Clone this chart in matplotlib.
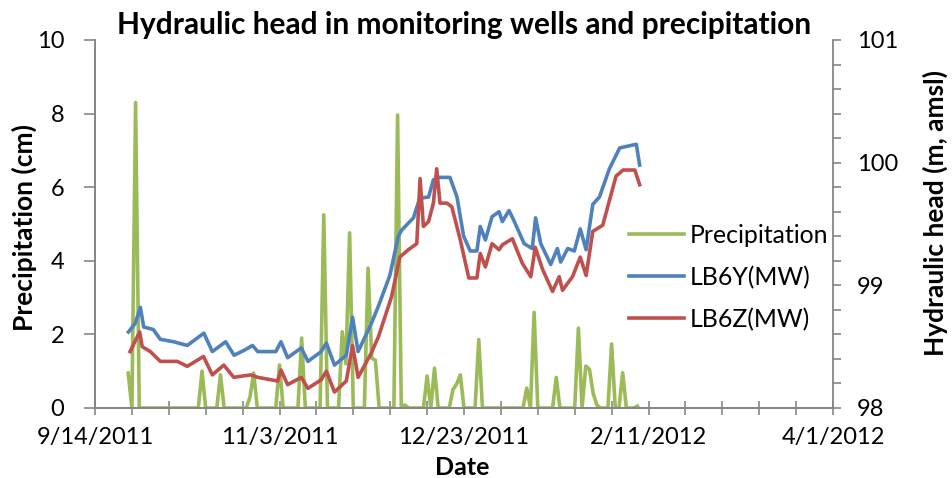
import datetime as dt
import matplotlib
matplotlib.use('Agg')
import matplotlib.pyplot as plt
from matplotlib.ticker import FixedLocator, FuncFormatter, MultipleLocator, NullFormatter
import matplotlib.dates as mdates

# 数据：日期以 2011-09-14 起算的天数表示
start = dt.datetime(2011, 9, 14)

# 日降水量 (cm)，从第 9 天到第 147 天
precip_first_day = 9
precip_cm = [
    0.95, 0, 8.3, 0, 0, 0, 0, 0, 0, 0, 0, 0, 0, 0, 0, 0, 0, 0, 0, 0,   # d9-28
    1.0, 0, 0, 0, 0, 0.9, 0, 0, 0, 0, 0, 0, 0, 0.3, 0.95, 0, 0, 0, 0, 0,  # d29-48
    0, 1.17, 0, 0, 0, 0, 0, 1.9, 0, 0, 0, 0, 0, 5.25, 0, 0, 0, 0, 2.07, 1.2,  # d49-68
    4.76, 0, 0, 0, 0, 3.8, 1.35, 1.3, 0, 0, 0, 0, 0, 7.96, 0.05, 0.08, 0, 0, 0, 0,  # d69-88
    0, 0.87, 0, 1.08, 0, 0, 0, 0, 0.5, 0.65, 0.9, 0, 0, 0, 0, 1.86, 0, 0, 0, 0,  # d89-108
    0, 0, 0, 0, 0, 0, 0, 0, 0.54, 0, 2.6, 0, 0, 0, 0, 0, 0.83, 0, 0, 0,  # d109-128
    0, 0, 2.17, 0, 1.14, 1.05, 0.4, 0.08, 0, 0, 0, 1.74, 0, 0, 0.96, 0, 0, 0, 0.05,  # d129-147
]

# 监测井水头 (m, amsl)
lb6y_day = [9.07, 10.9, 12.3, 13.2, 15.8, 17.7, 21.3, 25.0, 29.5, 31.8, 35.4, 37.7, 40.4, 42.7,
            44.1, 49.0, 50.4, 52.2, 55.9, 57.7, 61.3, 62.7, 64.9, 68.1, 69.8, 71.3, 74.9, 76.8,
            79.9, 82.2, 83.1, 86.3, 88.0, 90.4, 91.7, 93.1, 96.2, 98.1, 99.9, 101.7, 103.5, 104.4,
            105.8, 107.6, 109.5, 110.4, 112.2, 113.5, 116.3, 118.5, 119.4, 120.8, 123.5, 125.3,
            126.2, 128.1, 129.9, 131.5, 133.1, 134.9, 136.7, 139.4, 142.2, 146.7, 147.6]
lb6y_head = [98.62, 98.69, 98.82, 98.66, 98.64, 98.56, 98.54, 98.51, 98.61, 98.46, 98.54, 98.43,
             98.47, 98.51, 98.46, 98.46, 98.54, 98.41, 98.49, 98.38, 98.46, 98.53, 98.35, 98.43,
             98.74, 98.46, 98.69, 98.83, 99.08, 99.40, 99.45, 99.55, 99.71, 99.72, 99.86, 99.88,
             99.88, 99.72, 99.40, 99.28, 99.28, 99.48, 99.37, 99.56, 99.60, 99.52, 99.61, 99.53,
             99.34, 99.30, 99.55, 99.34, 99.17, 99.30, 99.19, 99.30, 99.28, 99.46, 99.29, 99.66,
             99.72, 99.95, 100.12, 100.15, 99.98]

lb6z_day = [9.5, 12.1, 12.8, 15.0, 17.7, 22.3, 25.0, 29.4, 31.8, 34.9, 37.6, 42.2, 44.1, 49.5,
            50.4, 52.2, 55.9, 57.7, 61.3, 62.7, 64.9, 68.1, 69.8, 71.3, 74.9, 76.8, 80.4, 82.6,
            84.9, 87.2, 88.1, 89.0, 90.4, 91.7, 92.6, 93.5, 95.4, 96.7, 99.0, 101.3, 103.5, 104.4,
            105.8, 107.6, 109.5, 110.4, 113.1, 115.8, 118.1, 119.3, 121.3, 124.0, 125.8, 126.7,
            129.4, 131.5, 133.1, 134.9, 137.6, 141.2, 143.1, 146.3, 147.6]
lb6z_head = [98.46, 98.62, 98.50, 98.46, 98.38, 98.38, 98.34, 98.42, 98.27, 98.35, 98.25, 98.27,
             98.25, 98.22, 98.31, 98.19, 98.25, 98.16, 98.23, 98.30, 98.13, 98.22, 98.51, 98.25,
             98.45, 98.58, 98.91, 99.23, 99.29, 99.34, 99.87, 99.48, 99.52, 99.67, 99.95, 99.67,
             99.67, 99.64, 99.37, 99.06, 99.06, 99.26, 99.15, 99.34, 99.29, 99.33, 99.38, 99.18,
             99.07, 99.31, 99.13, 98.95, 99.07, 98.96, 99.07, 99.23, 99.08, 99.44, 99.49, 99.89,
             99.94, 99.94, 99.82]

x_tick_days = [0, 50, 100, 150, 200]


def to_dates(days):
    return [start + dt.timedelta(days=d) for d in days]


def date_label(x, pos):
    d = mdates.num2date(x)
    return f'{d.month}/{d.day}/{d.year}'


plt.rcParams['font.family'] = ['Lato', 'DejaVu Sans']
plt.rcParams['font.size'] = 17

GREEN = '#9BBB59'
BLUE = '#4F81BD'
RED = '#C0504D'
AXC = '#868686'

fig = plt.figure(figsize=(9.52, 4.78), dpi=100)
ax = fig.add_axes([95 / 952, 1 - 408 / 478, 738 / 952, 368 / 478])
ax2 = ax.twinx()

precip_days = list(range(precip_first_day, precip_first_day + len(precip_cm)))
l1, = ax.plot(to_dates(precip_days), precip_cm, color=GREEN, lw=2.6, label='Precipitation')
l2, = ax2.plot(to_dates(lb6y_day), lb6y_head, color=BLUE, lw=2.6, label='LB6Y(MW)')
l3, = ax2.plot(to_dates(lb6z_day), lb6z_head, color=RED, lw=2.6, label='LB6Z(MW)')

ax.set_xlim(mdates.date2num(start), mdates.date2num(start + dt.timedelta(days=200)))
ax.set_ylim(0, 10)
ax2.set_ylim(98, 101)

ax.xaxis.set_major_locator(FixedLocator(mdates.date2num(to_dates(x_tick_days))))
ax.xaxis.set_minor_locator(FixedLocator(mdates.date2num(to_dates(range(0, 201, 10)))))
ax.xaxis.set_major_formatter(FuncFormatter(date_label))
ax.yaxis.set_major_locator(MultipleLocator(2))
ax2.yaxis.set_major_locator(MultipleLocator(1))
ax2.yaxis.set_minor_locator(MultipleLocator(0.2))
ax2.yaxis.set_minor_formatter(NullFormatter())

for a in (ax, ax2):
    a.spines['top'].set_visible(False)
    for s in a.spines.values():
        s.set_color(AXC)
        s.set_linewidth(1.3)
ax.spines['right'].set_visible(False)

ax.tick_params(axis='x', which='both', direction='inout', length=10, width=1.2, color=AXC, pad=9)
ax.tick_params(axis='y', direction='out', length=8, width=1.2, color=AXC, pad=14)
ax2.tick_params(axis='y', which='both', direction='out', length=6, width=1.2, color=AXC, pad=11)

ax.set_title('Hydraulic head in monitoring wells and precipitation',
             fontweight='bold', fontsize=21.5, pad=4)
ax.set_xlabel('Date', fontweight='bold', fontsize=18)
ax.xaxis.set_label_coords(0.497, -0.163)
ax.xaxis.label.set_verticalalignment('center')
ax.set_ylabel('Precipitation (cm)', fontweight='bold', fontsize=19)
ax.yaxis.set_label_coords(-0.079, 0.49)
ax2.set_ylabel('Hydraulic head (m, amsl)', fontweight='bold', fontsize=19)
ax2.yaxis.set_label_coords(1.122, 0.53)

ax2.legend(handles=[l1, l2, l3], loc='upper left', bbox_to_anchor=(0.71, 0.527),
           frameon=False, handlelength=2.2, handletextpad=0.25, labelspacing=0.75,
           borderaxespad=0, fontsize=17.9)

fig.savefig('out.png', dpi=100)
